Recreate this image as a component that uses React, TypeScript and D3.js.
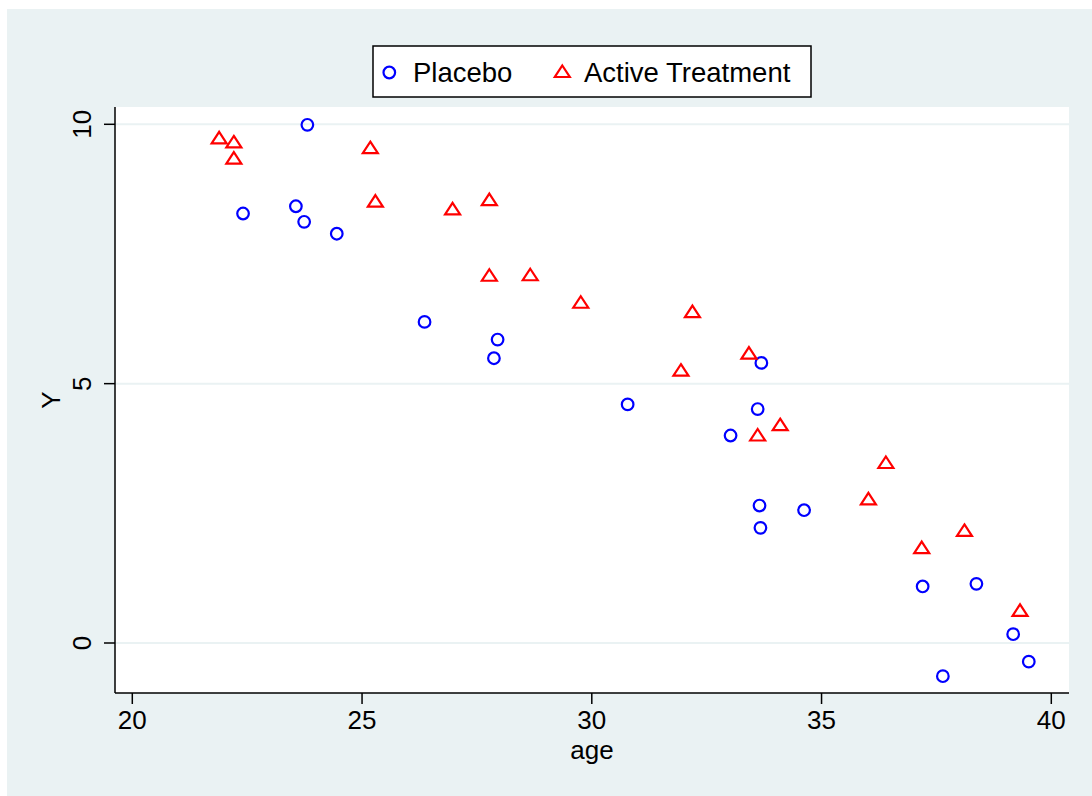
import React from "react";
import * as d3 from "d3";

const placeboAge = [22.41, 23.56, 23.74, 23.81, 24.45, 26.36, 27.95, 27.87, 30.78, 33.02, 33.61, 33.69, 33.65, 33.67, 34.62, 37.2, 38.37, 39.17, 39.51, 37.64];
const placeboY = [8.28, 8.42, 8.12, 9.99, 7.89, 6.19, 5.85, 5.49, 4.6, 4.0, 4.51, 5.4, 2.65, 2.22, 2.56, 1.09, 1.14, 0.17, -0.36, -0.64];
const activeAge = [21.89, 22.21, 22.21, 25.18, 25.29, 26.97, 27.77, 27.77, 28.66, 29.76, 32.19, 31.94, 33.42, 33.61, 34.1, 36.02, 36.4, 37.18, 38.11, 39.32];
const activeY = [9.73, 9.65, 9.34, 9.54, 8.51, 8.36, 8.54, 7.08, 7.09, 6.56, 6.38, 5.25, 5.58, 4.0, 4.2, 2.77, 3.47, 1.83, 2.16, 0.62];
const xTicks = [20, 25, 30, 35, 40];
const yTicks = [0, 5, 10];
const seriesNames = ["Placebo", "Active Treatment"];

const W = 1092, H = 796;
const plot = { left: 115, right: 1069, top: 107, bottom: 693 };
const BG = "#EAF2F3";
const FONT = "'Liberation Sans', Arial, sans-serif";

const x = d3.scaleLinear().domain([20, 40]).range([132.3, 1051.3]);
const y = d3.scaleLinear().domain([0, 10]).range([643, 124.3]);

const tri = "M0,-6.5L7.5,5L-7.5,5Z";

export default function App() {
  return (
    <svg width={W} height={H} style={{ position: "absolute", left: 0, top: 0 }}>
      <rect x={0} y={0} width={W} height={H} fill="#ffffff" />
      <rect x={7} y={9} width={W - 7} height={H - 9} fill={BG} />
      <rect x={plot.left} y={plot.top} width={plot.right - plot.left} height={plot.bottom - plot.top} fill="#ffffff" />
      {yTicks.map((t) => (
        <line key={"g" + t} x1={plot.left} x2={plot.right} y1={y(t)} y2={y(t)} stroke={BG} strokeWidth={2} />
      ))}
      <line x1={plot.left} x2={plot.left} y1={plot.top} y2={plot.bottom} stroke="#000" strokeWidth={1.5} />
      <line x1={plot.left} x2={plot.right} y1={plot.bottom} y2={plot.bottom} stroke="#000" strokeWidth={1.5} />
      {yTicks.map((t) => (
        <g key={"yt" + t}>
          <line x1={plot.left - 11} x2={plot.left} y1={y(t)} y2={y(t)} stroke="#000" strokeWidth={1.5} />
          <text
            transform={`translate(${91},${y(t)}) rotate(-90)`}
            textAnchor="middle"
            fontFamily={FONT}
            fontSize={26}
            fill="#000"
          >
            {t}
          </text>
        </g>
      ))}
      {xTicks.map((t) => (
        <g key={"xt" + t}>
          <line x1={x(t)} x2={x(t)} y1={plot.bottom} y2={plot.bottom + 11} stroke="#000" strokeWidth={1.5} />
          <text x={x(t)} y={729} textAnchor="middle" fontFamily={FONT} fontSize={26} fill="#000">
            {t}
          </text>
        </g>
      ))}
      <text x={592} y={759} textAnchor="middle" fontFamily={FONT} fontSize={26} fill="#000">
        age
      </text>
      <text transform={`translate(60,400) rotate(-90)`} textAnchor="middle" fontFamily={FONT} fontSize={26} fill="#000">
        Y
      </text>
      {placeboAge.map((a, i) => (
        <circle key={"p" + i} cx={x(a)} cy={y(placeboY[i])} r={5.8} fill="none" stroke="#0000ff" strokeWidth={2.2} />
      ))}
      {activeAge.map((a, i) => (
        <path key={"a" + i} d={tri} transform={`translate(${x(a)},${y(activeY[i])})`} fill="none" stroke="#ff0000" strokeWidth={2.2} />
      ))}
      <rect x={373} y={46} width={438} height={51} fill="#fff" stroke="#000" strokeWidth={1.5} />
      <circle cx={389.3} cy={72.5} r={5.8} fill="none" stroke="#0000ff" strokeWidth={2.2} />
      <text x={413} y={82} fontFamily={FONT} fontSize={27.5} fill="#000">
        {seriesNames[0]}
      </text>
      <path d={tri} transform="translate(562.3,72)" fill="none" stroke="#ff0000" strokeWidth={2.2} />
      <text x={584} y={82} fontFamily={FONT} fontSize={27.5} fill="#000">
        {seriesNames[1]}
      </text>
    </svg>
  );
}
